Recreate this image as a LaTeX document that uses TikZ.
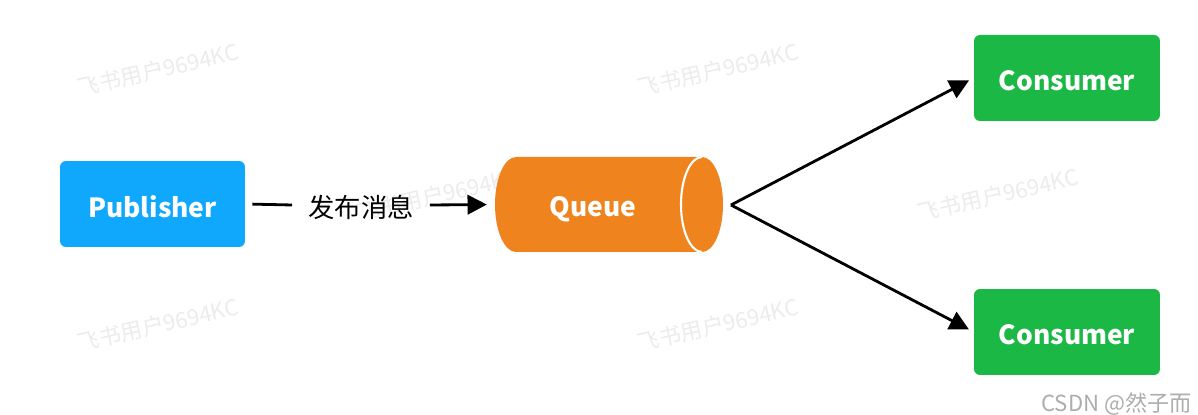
\documentclass[tikz,border=0pt]{standalone}
\usepackage{fontspec}
\setmainfont{Noto Sans CJK SC}
\usetikzlibrary{arrows.meta,calc}
\definecolor{pubblue}{RGB}{16,168,252}
\definecolor{qorange}{RGB}{239,132,31}
\definecolor{cgreen}{RGB}{28,184,69}
\definecolor{wmgray}{RGB}{236,236,236}
\newcommand{\lowr}[2]{\raisebox{-#1}[\height][\depth]{#2}}
\tikzset{
  box/.style={rounded corners=3.4pt, minimum width=3.7cm, minimum height=1.72cm, text=white, font=\fontsize{15}{18}\selectfont\bfseries, inner sep=0pt},
  conn/.style={line width=1.6pt, black},
  arr/.style={conn, -{Triangle[length=11pt,width=11pt]}},
  wm/.style={text=wmgray, font=\fontsize{12.5}{14}\selectfont, rotate=13}
}
\begin{document}
\begin{tikzpicture}[x=0.02cm,y=0.02cm]
\useasboundingbox (0,0) rectangle (1198,415);
\fill[white] (0,0) rectangle (1198,415);
% watermarks
\foreach \px/\py [count=\i] in {158/345, 718/345, 438/220, 998/220, 158/90, 718/90}
  \node[wm] (wm\i) at (\px,\py) {飞书用户9694KC};
% publisher
\node[box, fill=pubblue] (pub) at (152.5,211) {\lowr{1.5pt}{Publisher}};
% queue cylinder
\fill[qorange] (516,258) -- (702,258) arc[start angle=90, end angle=-90, x radius=21, y radius=47.5]
  -- (516,163) arc[start angle=270, end angle=90, x radius=21, y radius=47.5] -- cycle;
\draw[white, line width=1.2pt] (702,258) arc[start angle=90, end angle=270, x radius=21, y radius=47.5];
\node[minimum width=226*0.02cm, minimum height=95*0.02cm, inner sep=0pt, text=white, font=\fontsize{15}{18}\selectfont\bfseries] (queue) at (609,210.5) {\hspace*{-18pt}\lowr{3pt}{Queue}};
% consumers
\node[box, fill=cgreen, minimum width=3.72cm] (c1) at (1067,337) {\lowr{1.5pt}{Consumer}};
\node[box, fill=cgreen, minimum width=3.72cm] (c2) at (1067,83) {\lowr{1.5pt}{Consumer}};
% label
\node[inner xsep=9pt, inner ysep=0pt, font=\fontsize{15}{18}\selectfont] (msg) at (361,210) {\lowr{1.5pt}{发布消息}};
\draw[conn, shorten <=4pt] (pub.east) -- (msg.west);
\draw[arr, shorten >=5pt] (msg.east) -- (queue.west);
\coordinate (qout) at (731,210);
\draw[arr, shorten >=3pt] (qout) -- (c1.west);
\draw[arr, shorten >=3pt] (qout) -- (c2.west);
% footer
\node[anchor=east, text=black!32, font=\fontsize{12.6}{14}\selectfont, inner sep=0pt] (csdn) at (1192,11) {CSDN @然子而};
\end{tikzpicture}
\end{document}
